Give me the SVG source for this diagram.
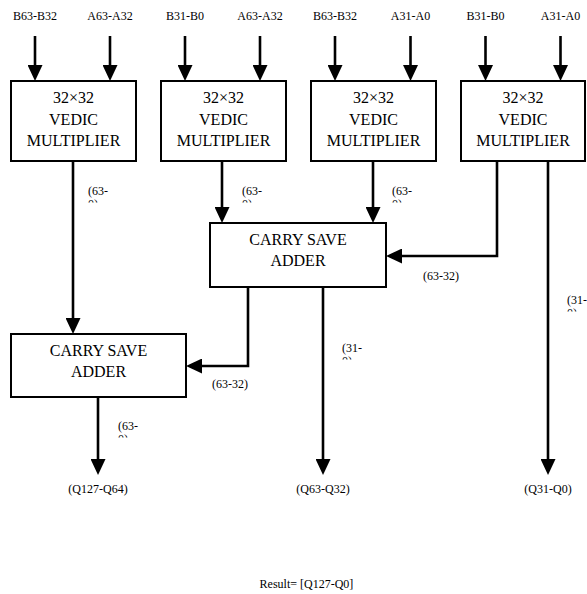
<svg xmlns="http://www.w3.org/2000/svg" width="587" height="594" viewBox="0 0 587 594">
<style>
.box{fill:#fff;stroke:#000;stroke-width:2}
.big{font-family:"Liberation Serif","Times New Roman",serif;font-size:16px;fill:#000;text-anchor:middle}
.lbl{font-family:"Liberation Serif","Times New Roman",serif;font-size:12px;fill:#000}
.mid{text-anchor:middle}
.wire{fill:none;stroke:#000;stroke-width:2.6}
</style>
<defs>
<marker id="ah" markerUnits="userSpaceOnUse" markerWidth="17" markerHeight="15" refX="8" refY="7.5" orient="auto">
<path d="M0,0 L16,7.5 L0,15 Z" fill="#000"/>
</marker>
<clipPath id="c1"><rect x="0" y="0" width="587" height="202.5"/></clipPath>
<clipPath id="c2"><rect x="0" y="0" width="587" height="311.5"/></clipPath>
<clipPath id="c3"><rect x="0" y="0" width="587" height="359.5"/></clipPath>
<clipPath id="c4"><rect x="0" y="0" width="587" height="437.5"/></clipPath>
</defs>
<rect width="587" height="594" fill="#fff"/>

<g id="inputs" class="lbl">
<text x="35" y="20" class="mid">B63-B32</text>
<text x="110" y="20" class="mid">A63-A32</text>
<text x="185" y="20" class="mid">B31-B0</text>
<text x="260" y="20" class="mid">A63-A32</text>
<text x="335" y="20" class="mid">B63-B32</text>
<text x="410.5" y="20" class="mid">A31-A0</text>
<text x="485.5" y="20" class="mid">B31-B0</text>
<text x="560.5" y="20" class="mid">A31-A0</text>
</g>

<g id="connectors">
<line class="wire" x1="35" y1="36" x2="35" y2="73" marker-end="url(#ah)"/>
<line class="wire" x1="110" y1="36" x2="110" y2="73" marker-end="url(#ah)"/>
<line class="wire" x1="185" y1="36" x2="185" y2="73" marker-end="url(#ah)"/>
<line class="wire" x1="260" y1="36" x2="260" y2="73" marker-end="url(#ah)"/>
<line class="wire" x1="335" y1="36" x2="335" y2="73" marker-end="url(#ah)"/>
<line class="wire" x1="410.5" y1="36" x2="410.5" y2="73" marker-end="url(#ah)"/>
<line class="wire" x1="485.5" y1="36" x2="485.5" y2="73" marker-end="url(#ah)"/>
<line class="wire" x1="560.5" y1="36" x2="560.5" y2="73" marker-end="url(#ah)"/>
<line class="wire" x1="73" y1="161" x2="73" y2="326" marker-end="url(#ah)"/>
<line class="wire" x1="222" y1="161" x2="222" y2="215" marker-end="url(#ah)"/>
<line class="wire" x1="373" y1="161" x2="373" y2="215" marker-end="url(#ah)"/>
<path class="wire" d="M497,161 V256 H394" marker-end="url(#ah)"/>
<line class="wire" x1="548" y1="161" x2="548" y2="467" marker-end="url(#ah)"/>
<line class="wire" x1="323" y1="287" x2="323" y2="467" marker-end="url(#ah)"/>
<path class="wire" d="M248,287 V366 H194" marker-end="url(#ah)"/>
<line class="wire" x1="98" y1="397" x2="98" y2="467" marker-end="url(#ah)"/>
</g>

<g id="vm1">
<rect class="box" x="11" y="81" width="125" height="80"/>
<text class="big" x="73.5" y="103">32×32</text>
<text class="big" x="73.5" y="125">VEDIC</text>
<text class="big" x="73.5" y="146">MULTIPLIER</text>
</g>
<g id="vm2">
<rect class="box" x="161" y="81" width="125" height="80"/>
<text class="big" x="223.5" y="103">32×32</text>
<text class="big" x="223.5" y="125">VEDIC</text>
<text class="big" x="223.5" y="146">MULTIPLIER</text>
</g>
<g id="vm3">
<rect class="box" x="311" y="81" width="125" height="80"/>
<text class="big" x="373.5" y="103">32×32</text>
<text class="big" x="373.5" y="125">VEDIC</text>
<text class="big" x="373.5" y="146">MULTIPLIER</text>
</g>
<g id="vm4">
<rect class="box" x="461" y="81" width="124" height="80"/>
<text class="big" x="523" y="103">32×32</text>
<text class="big" x="523" y="125">VEDIC</text>
<text class="big" x="523" y="146">MULTIPLIER</text>
</g>
<g id="csa1">
<rect class="box" x="210" y="223" width="176" height="64"/>
<text class="big" x="298" y="245">CARRY SAVE</text>
<text class="big" x="298" y="266">ADDER</text>
</g>
<g id="csa2">
<rect class="box" x="11" y="334" width="175" height="63"/>
<text class="big" x="98.5" y="356">CARRY SAVE</text>
<text class="big" x="98.5" y="377">ADDER</text>
</g>

<g id="labels" class="lbl">
<g clip-path="url(#c1)">
<text x="88" y="195">(63-</text><text x="88" y="208">0)</text>
<text x="242" y="195">(63-</text><text x="242" y="208">0)</text>
<text x="392" y="195">(63-</text><text x="392" y="208">0)</text>
</g>
<text x="423" y="280">(63-32)</text>
<g clip-path="url(#c2)">
<text x="567" y="304">(31-</text><text x="567" y="317">0)</text>
</g>
<g clip-path="url(#c3)">
<text x="342" y="352">(31-</text><text x="342" y="365">0)</text>
</g>
<text x="212" y="388">(63-32)</text>
<g clip-path="url(#c4)">
<text x="118" y="430">(63-</text><text x="118" y="443">0)</text>
</g>
<text x="98" y="493" class="mid">(Q127-Q64)</text>
<text x="323" y="493" class="mid">(Q63-Q32)</text>
<text x="548" y="493" class="mid">(Q31-Q0)</text>
<text x="306.5" y="588" class="mid">Result= [Q127-Q0]</text>
</g>
</svg>
